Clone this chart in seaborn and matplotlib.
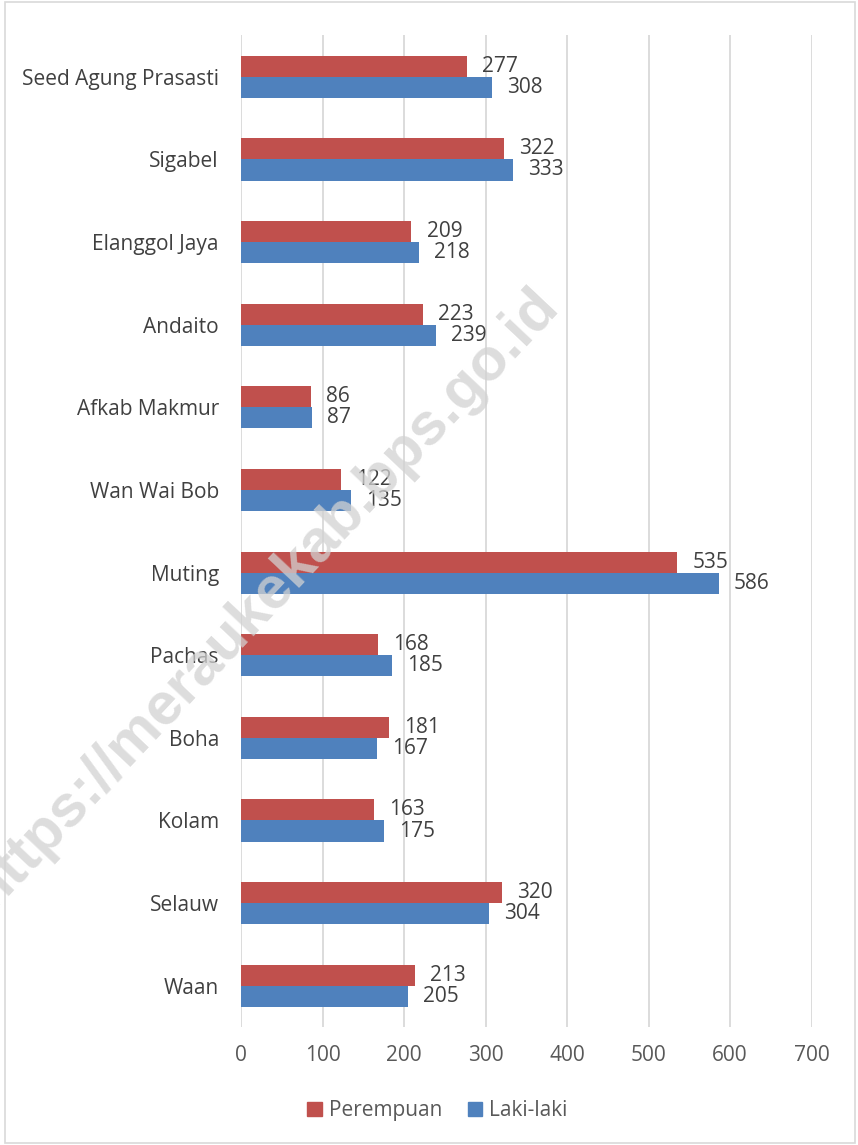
import pandas as pd
import matplotlib.pyplot as plt
import seaborn as sns
from matplotlib.patches import Rectangle, Patch

# --- data ---
desa = ['Seed Agung Prasasti', 'Sigabel', 'Elanggol Jaya', 'Andaito', 'Afkab Makmur',
        'Wan Wai Bob', 'Muting', 'Pachas', 'Boha', 'Kolam', 'Selauw', 'Waan']
perempuan = [277, 322, 209, 223, 86, 122, 535, 168, 181, 163, 320, 213]
laki_laki = [308, 333, 218, 239, 87, 135, 586, 185, 167, 175, 304, 205]
x_ticks = [0, 100, 200, 300, 400, 500, 600, 700]

df = pd.DataFrame({
    'Desa': desa * 2,
    'Jumlah': perempuan + laki_laki,
    'Jenis': ['Perempuan'] * len(desa) + ['Laki-laki'] * len(desa),
})

sns.set_theme(style='white')
plt.rcParams['font.family'] = ['Open Sans', 'DejaVu Sans']

fig = plt.figure(figsize=(8.58, 11.45), dpi=100)
ax = fig.add_axes([0.281, 0.103, 0.665, 0.866])

colors = {'Perempuan': '#C0504D', 'Laki-laki': '#4F81BD'}
sns.barplot(data=df, x='Jumlah', y='Desa', hue='Jenis', order=desa,
            hue_order=['Perempuan', 'Laki-laki'], palette=colors,
            orient='h', width=0.51, dodge=True, ax=ax, legend=False,
            edgecolor='none', saturation=1)

for cont in ax.containers:
    ax.bar_label(cont, padding=11, fontsize=15, color='#404040')

ax.set_xlim(0, 700)
ax.set_ylim(11.5, -0.5)
ax.set_xticks(x_ticks)
ax.set_xticklabels([str(t) for t in x_ticks], fontsize=15, color='#595959')
ax.tick_params(axis='y', labelsize=15, colors='#404040', length=0, pad=16)
ax.tick_params(axis='x', length=0, pad=13)
ax.set_xlabel('')
ax.set_ylabel('')
ax.grid(axis='x', color='#D9D9D9', linewidth=1.3)
ax.set_axisbelow(True)
for s in ax.spines.values():
    s.set_visible(False)

# legend
handles = [Patch(color=colors['Perempuan'], label='Perempuan'),
           Patch(color=colors['Laki-laki'], label='Laki-laki')]
fig.legend(handles=handles, loc='center', bbox_to_anchor=(0.51, 0.030), ncol=2,
           frameon=False, fontsize=15, handlelength=0.7, handleheight=0.7,
           handletextpad=0.35, columnspacing=1.2, labelcolor='#595959')

# watermark
fig.text(0.308, 0.478, 'https://meraukekab.bps.go.id', rotation=46.7,
         fontsize=43, fontweight='bold', family=['Liberation Sans', 'DejaVu Sans'],
         color='#D2D2D2', alpha=0.75, ha='center', va='center')

# border
fig.patches.append(Rectangle((0.006, 0.002), 0.990, 0.996, transform=fig.transFigure,
                             fill=False, edgecolor='#D9D9D9', linewidth=1.2))

fig.savefig('out.png', dpi=100)
